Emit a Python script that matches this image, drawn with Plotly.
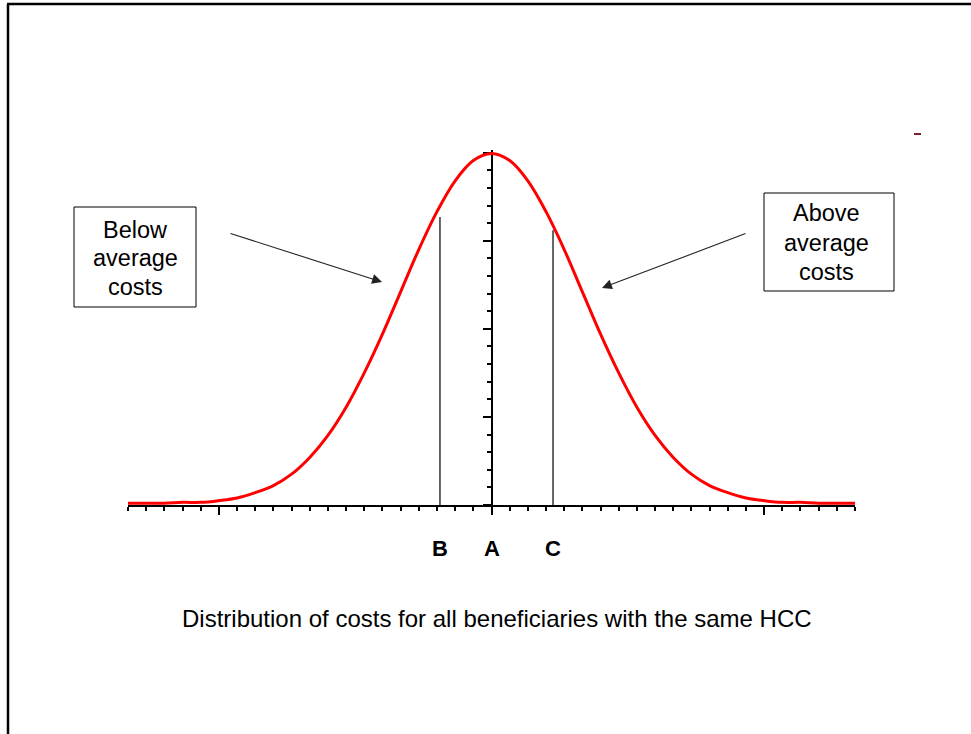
import plotly.graph_objects as go

# ---------------- data ----------------
curve_x = [-4.0, -3.8, -3.6, -3.4, -3.2, -3.0, -2.8, -2.6, -2.4, -2.2, -2.0,
           -1.8, -1.6, -1.4, -1.2, -1.0, -0.8, -0.6, -0.4, -0.2, 0.0,
           0.2, 0.4, 0.6, 0.8, 1.0, 1.2, 1.4, 1.6, 1.8, 2.0,
           2.2, 2.4, 2.6, 2.8, 3.0, 3.2, 3.4, 3.6, 3.8, 4.0]
curve_y = [0.002, 0.002, 0.002, 0.003, 0.003, 0.005, 0.008, 0.014, 0.022, 0.035, 0.054,
           0.079, 0.111, 0.150, 0.194, 0.242, 0.290, 0.333, 0.368, 0.391, 0.399,
           0.391, 0.368, 0.333, 0.290, 0.242, 0.194, 0.150, 0.111, 0.079, 0.054,
           0.035, 0.022, 0.014, 0.008, 0.005, 0.003, 0.003, 0.002, 0.002, 0.002]

marker_labels = ["B", "A", "C"]
marker_x = [-0.567, 0.0, 0.677]
marker_top = [0.327, 0.399, 0.312]

below_lines = ["Below", "average", "costs"]
above_lines = ["Above", "average", "costs"]
caption = "Distribution of costs for all beneficiaries with the same HCC"

# ---------------- layout geometry (pixels) ----------------
W, H = 971, 734
L, R, T, B = 128, 855, 150, 505
YMAX = 0.403
FONT = "Liberation Sans, Arial, sans-serif"


def px(x):
    return (x - L) / (R - L)


def py(y):
    return (B - y) / (B - T)


fig = go.Figure()

# reference lines B and C
for i in (0, 2):
    fig.add_trace(go.Scatter(x=[marker_x[i], marker_x[i]], y=[0, marker_top[i]],
                             mode="lines", line=dict(color="black", width=1.2),
                             hoverinfo="skip", showlegend=False))

# bell curve
fig.add_trace(go.Scatter(x=curve_x, y=curve_y, mode="lines",
                         line=dict(color="#ff0000", width=3, shape="spline"),
                         cliponaxis=False, showlegend=False))

shapes = [
    # frame (top and left)
    dict(type="line", xref="paper", yref="paper", x0=px(7), x1=px(971), y0=py(4), y1=py(4),
         line=dict(color="black", width=2.5)),
    dict(type="line", xref="paper", yref="paper", x0=px(8), x1=px(8), y0=py(4), y1=py(734),
         line=dict(color="black", width=2.5)),
    # boxes
    dict(type="rect", xref="paper", yref="paper", x0=px(74), x1=px(196), y0=py(307), y1=py(207),
         line=dict(color="black", width=1)),
    dict(type="rect", xref="paper", yref="paper", x0=px(764), x1=px(894), y0=py(291), y1=py(193),
         line=dict(color="black", width=1)),
    # small stray mark
    dict(type="line", xref="paper", yref="paper", x0=px(914), x1=px(921), y0=py(134), y1=py(134),
         line=dict(color="#7a2030", width=2)),
]

C = dict(xanchor="center", yanchor="middle", showarrow=False)
annotations = [
    # arrows
    dict(xref="paper", yref="paper", x=px(382), y=py(282), ax=229 - 382, ay=233 - 282,
         text="", showarrow=True, arrowhead=2, arrowsize=1.8, arrowwidth=1.1, arrowcolor="#222"),
    dict(xref="paper", yref="paper", x=px(602), y=py(288), ax=747 - 602, ay=233 - 288,
         text="", showarrow=True, arrowhead=2, arrowsize=1.8, arrowwidth=1.1, arrowcolor="#222"),
    dict(xref="paper", yref="paper", x=px(497), y=py(618), text=caption,
         font=dict(family=FONT, size=24, color="black"), **C),
]
for txt, yy in zip(below_lines, [230, 258, 287]):
    annotations.append(dict(xref="paper", yref="paper", x=px(135), y=py(yy), text=txt,
                            font=dict(family=FONT, size=23.5, color="black"), **C))
for txt, yy in zip(above_lines, [213, 243, 272]):
    annotations.append(dict(xref="paper", yref="paper", x=px(826), y=py(yy), text=txt,
                            font=dict(family=FONT, size=23.5, color="black"), **C))
for lab, xv in zip(marker_labels, marker_x):
    annotations.append(dict(xref="x", yref="paper", x=xv, y=py(548), text="<b>%s</b>" % lab,
                            font=dict(family=FONT, size=22, color="black"), **C))

fig.update_layout(
    width=W, height=H, autosize=False,
    margin=dict(l=L, r=W - R, t=T, b=H - B, pad=0),
    paper_bgcolor="white", plot_bgcolor="white",
    showlegend=False,
    shapes=shapes, annotations=annotations,
    xaxis=dict(range=[-4, 4], showgrid=False, zeroline=False, showticklabels=False,
               showline=True, linecolor="black", linewidth=2,
               ticks="outside", ticklen=8, tickwidth=2, tickcolor="black",
               tick0=0, dtick=3,
               minor=dict(ticks="outside", ticklen=4, tickwidth=2, tickcolor="black",
                          tick0=0, dtick=0.2),
               layer="below traces", fixedrange=True),
    yaxis=dict(range=[0, YMAX], showgrid=False, zeroline=False, showticklabels=False,
               showline=True, linecolor="black", linewidth=2,
               anchor="free", position=0.5,
               ticks="outside", ticklen=8, tickwidth=2, tickcolor="black",
               tick0=0, dtick=0.1,
               minor=dict(ticks="outside", ticklen=4, tickwidth=2, tickcolor="black",
                          tick0=0, dtick=0.02),
               layer="below traces", fixedrange=True),
)

fig.write_html("out.html", config={"displayModeBar": False},
               post_script="document.body.style.margin='0px';document.body.style.overflow='hidden';")
